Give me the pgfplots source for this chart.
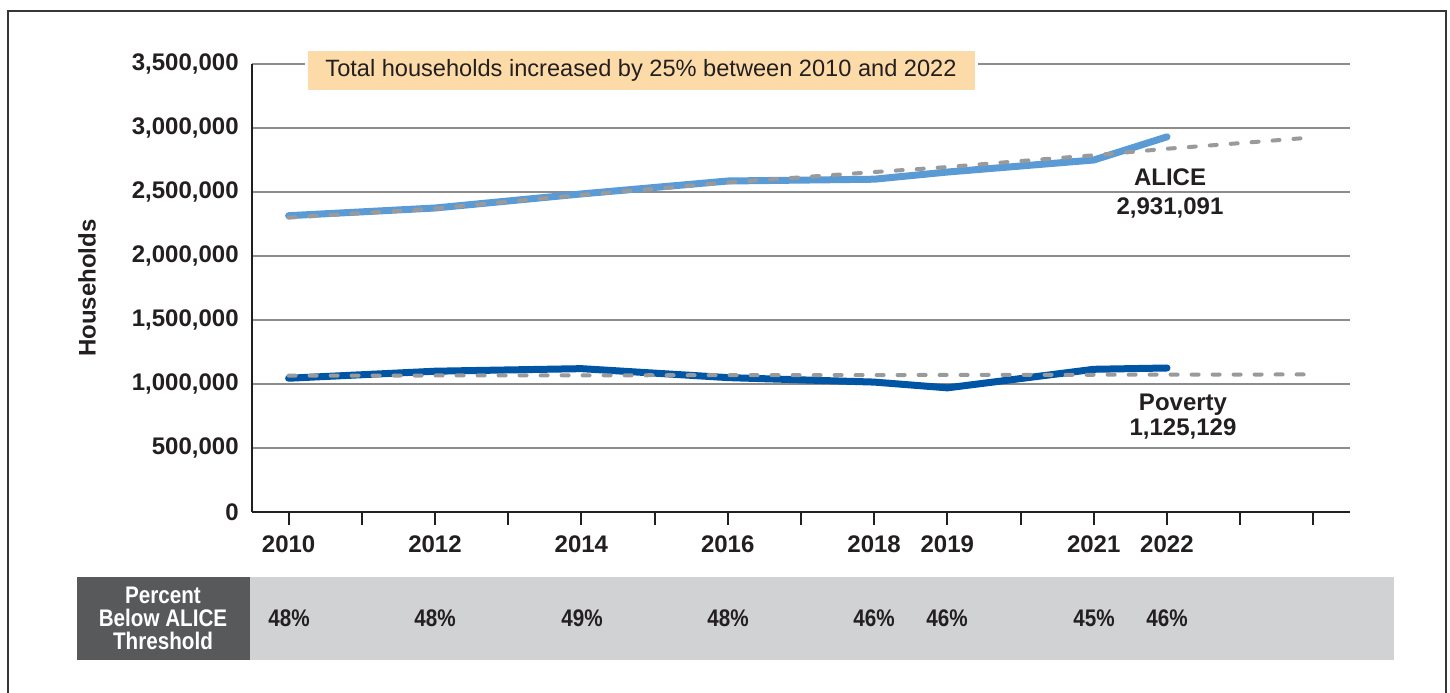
\documentclass[border=0pt]{standalone}
\usepackage{fontspec}
\setmainfont{Liberation Sans}
\newfontfamily\condfont[FakeStretch=0.86]{Liberation Sans}
\usepackage{pgfplots}
\pgfplotsset{compat=1.18}

\definecolor{alice}{HTML}{5B9BD5}
\definecolor{pov}{HTML}{0055A5}
\definecolor{trend}{HTML}{999A9C}
\definecolor{gridc}{HTML}{8C8C8C}
\definecolor{ink}{HTML}{231F20}
\definecolor{note}{HTML}{FDDBA9}
\definecolor{darkbox}{HTML}{58595B}
\definecolor{band}{HTML}{D1D2D4}

\newcommand{\lab}{\bfseries\fontsize{12}{14}\selectfont}

\begin{document}
\begin{tikzpicture}
% page = reference at 0.5pt per pixel
\path[use as bounding box] (0,0) rectangle (725pt,-346pt);
\begin{scope}[x=0.5pt,y=-0.5pt]
  \draw[ink!90, line width=1pt] (8,720) -- (8,11) -- (1446,11) -- (1446,720);
  \fill[band] (250,577) rectangle (1394,660);
  \fill[darkbox] (77,577) rectangle (250,660);
  \node[text=white, font=\condfont\bfseries\fontsize{12}{11.5}\selectfont, align=center]
    at (163,618) {Percent\\Below ALICE\\Threshold};
\end{scope}

\begin{axis}[
  at={(126pt,-256pt)}, anchor=south west,
  scale only axis, width=549pt, height=224pt,
  xmin=2009.5, xmax=2024.5, ymin=0, ymax=3500000,
  scaled y ticks=false,
  axis x line*=bottom, axis y line*=left,
  axis line style={ink, line width=1pt, -},
  xtick={2010,...,2024},
  xticklabels={2010,,2012,,2014,,2016,,2018,2019,,2021,2022,,},
  ytick={0,500000,1000000,1500000,2000000,2500000,3000000,3500000},
  yticklabels={0,{500,000},{1,000,000},{1,500,000},{2,000,000},{2,500,000},{3,000,000},{3,500,000}},
  ymajorgrids, grid style={gridc, line width=0.75pt},
  tick align=outside, major tick length=6.5pt,
  xtick style={ink, line width=1pt},
  ytick style={draw=none},
  tick label style={font=\lab, text=ink},
  yticklabel style={anchor=east, inner sep=0pt},
  xticklabel style={anchor=north, inner sep=0pt, yshift=-5pt},
  ylabel={Households},
  ylabel style={font=\lab, text=ink, at={(axis description cs:-0.1503,0.5)}, anchor=center},
  clip=false,
]
% ALICE households
\addplot[alice, line width=3.5pt, line cap=round, line join=round] coordinates {
  (2010,2315000) (2012,2375000) (2014,2485000) (2016,2586000)
  (2018,2600000) (2019,2656000) (2021,2750000) (2022,2931091)};
% Poverty households
\addplot[pov, line width=3.5pt, line cap=round, line join=round] coordinates {
  (2010,1045000) (2012,1100000) (2014,1120000) (2016,1050000)
  (2018,1015000) (2019,970000) (2021,1115000) (2022,1125129)};
% trend lines
\addplot[trend, line width=2pt, line cap=round, dash pattern=on 3.5pt off 7pt] coordinates {
  (2010,2300000) (2011,2335000) (2012,2370000) (2013,2425000) (2014,2477000)
  (2015,2525000) (2016,2575000) (2017,2615000) (2018,2656000) (2019,2695000)
  (2020,2742000) (2021,2787000) (2022,2838000) (2023,2882000) (2024,2927000)};
\addplot[trend, line width=2pt, line cap=round, dash pattern=on 3.5pt off 7pt] coordinates {
  (2010,1065000) (2014,1068000) (2018,1070000) (2022,1073000) (2024,1075000)};
\end{axis}

\begin{scope}[x=0.5pt,y=-0.5pt]
  \node[font=\lab, text=ink] at (1170,177) {ALICE};
  \node[font=\lab, text=ink] at (1170,208) {2,931,091};
  \node[font=\lab, text=ink] at (1183,405) {Poverty};
  \node[font=\lab, text=ink] at (1183,429) {1,125,129};

  \node[font=\condfont\lab, text=ink] at (289,618) {48\%};
  \node[font=\condfont\lab, text=ink] at (435,618) {48\%};
  \node[font=\condfont\lab, text=ink] at (582,618) {49\%};
  \node[font=\condfont\lab, text=ink] at (728,618) {48\%};
  \node[font=\condfont\lab, text=ink] at (874,618) {46\%};
  \node[font=\condfont\lab, text=ink] at (947,618) {46\%};
  \node[font=\condfont\lab, text=ink] at (1094,618) {45\%};
  \node[font=\condfont\lab, text=ink] at (1167,618) {46\%};

  \node[fill=note, draw=white, line width=1.5pt, minimum width=335pt, minimum height=21pt,
        inner sep=0pt, text=ink, font=\fontsize{11.8}{14}\selectfont]
    at (641,70) {Total households increased by 25\% between 2010 and 2022};
\end{scope}
\end{tikzpicture}
\end{document}
